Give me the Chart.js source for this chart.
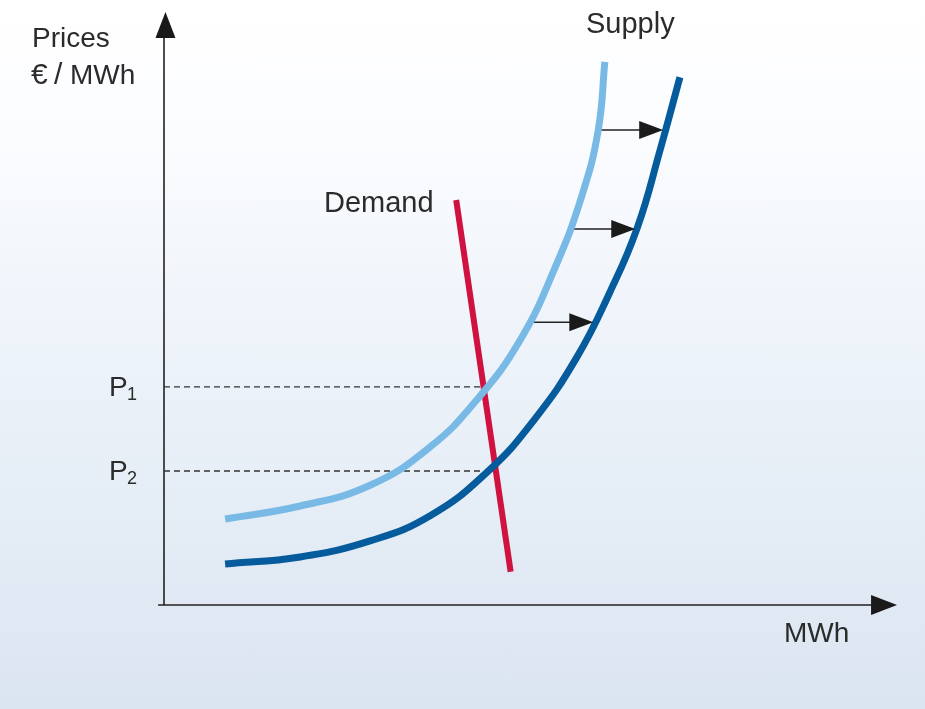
<!DOCTYPE html>
<html lang="en">
<head>
    <meta charset="UTF-8">
    <title>Supply and demand</title>
    <style>
        body {
            margin: 0;
            padding: 0;
            background: linear-gradient(to bottom, #ffffff 0%, #fcfdff 15%, #e9f0f8 60%, #dbe5f1 100%);
            width: 925px;
            height: 709px;
            overflow: hidden;
        }
        #supplyChart {
            display: block;
        }
    </style>
</head>
<body>
    <canvas id="supplyChart" width="925" height="709"></canvas>
    <script src="https://cdn.jsdelivr.net/npm/chart.js"></script>
    <script>
        // values (x = quantity, y = price, both 0..100)
        const supplyX = [8.3, 18.5, 28.0, 36.1, 42.5, 48.4, 53.1, 56.8, 59.0, 59.9];
        const supplyY = [14.5, 16.7, 20.2, 26.6, 34.6, 44.7, 56.8, 69.1, 80.1, 91.6];
        const shiftedX = [8.3, 18.5, 28.0, 36.1, 43.9, 50.4, 56.1, 60.6, 64.3, 67.4, 70.1];
        const shiftedY = [6.9, 8.1, 10.8, 15.0, 22.4, 31.4, 41.8, 52.8, 63.6, 76.7, 89.0];
        const demandX = [39.7, 47.1];
        const demandY = [68.3, 5.6];
        const priceLevels = [36.8, 22.6];
        const priceEnds = [43.6, 44.8];
        const priceLabels = ['1', '2'];
        const shiftY = [80.1, 63.4, 47.7];
        const shiftFrom = [59.0, 55.2, 49.7];
        const shiftTo = [68.1, 64.3, 58.6];

        const toPoints = (xs, ys) => xs.map((x, i) => ({ x: x, y: ys[i] }));

        const datasets = [
            {
                data: toPoints(supplyX, supplyY),
                borderColor: '#78b9e6',
                borderWidth: 7,
                tension: 0.45,
                borderCapStyle: 'butt'
            },
            {
                data: toPoints(shiftedX, shiftedY),
                borderColor: '#055b9b',
                borderWidth: 7,
                tension: 0.45,
                borderCapStyle: 'butt'
            },
            {
                data: toPoints(demandX, demandY),
                borderColor: '#cf1240',
                borderWidth: 6,
                tension: 0
            }
        ];
        priceLevels.forEach((p, i) => {
            datasets.push({
                data: [{ x: 0, y: p }, { x: priceEnds[i], y: p }],
                borderColor: '#333333',
                borderWidth: 1.3,
                borderDash: [6, 4],
                tension: 0
            });
        });
        shiftY.forEach((y, i) => {
            datasets.push({
                data: [{ x: shiftFrom[i], y: y }, { x: shiftTo[i] - 3, y: y }],
                borderColor: '#222222',
                borderWidth: 1.5,
                tension: 0,
                arrowTip: shiftTo[i]
            });
        });

        function triangle(ctx, tipX, tipY, dir, len, half) {
            ctx.beginPath();
            if (dir === 'right') {
                ctx.moveTo(tipX, tipY);
                ctx.lineTo(tipX - len, tipY - half);
                ctx.lineTo(tipX - len, tipY + half);
            } else {
                ctx.moveTo(tipX, tipY);
                ctx.lineTo(tipX - half, tipY + len);
                ctx.lineTo(tipX + half, tipY + len);
            }
            ctx.closePath();
            ctx.fill();
        }

        const diagramParts = {
            id: 'diagramParts',
            beforeDatasetsDraw(chart) {
                const ctx = chart.ctx;
                const xs = chart.scales.x;
                const ys = chart.scales.y;
                ctx.save();
                ctx.strokeStyle = '#222222';
                ctx.fillStyle = '#1a1a1a';
                ctx.lineWidth = 1.6;
                // axes
                ctx.beginPath();
                ctx.moveTo(xs.getPixelForValue(-0.8), ys.getPixelForValue(0));
                ctx.lineTo(xs.getPixelForValue(97), ys.getPixelForValue(0));
                ctx.moveTo(xs.getPixelForValue(0), ys.getPixelForValue(0));
                ctx.lineTo(xs.getPixelForValue(0), ys.getPixelForValue(96));
                ctx.stroke();
                triangle(ctx, xs.getPixelForValue(99.6), ys.getPixelForValue(0), 'right', 26, 10);
                triangle(ctx, xs.getPixelForValue(0.2), ys.getPixelForValue(100), 'up', 26, 10);
                ctx.restore();
            },
            afterDatasetsDraw(chart) {
                const ctx = chart.ctx;
                const xs = chart.scales.x;
                const ys = chart.scales.y;
                ctx.save();
                ctx.fillStyle = '#1a1a1a';
                chart.data.datasets.forEach(ds => {
                    if (ds.arrowTip !== undefined) {
                        triangle(ctx, xs.getPixelForValue(ds.arrowTip) - 2, ys.getPixelForValue(ds.data[0].y), 'right', 24, 9);
                    }
                });

                const font = '28px "Liberation Sans", Arial, sans-serif';
                ctx.fillStyle = '#2b2b2b';
                ctx.textBaseline = 'alphabetic';
                ctx.font = font;
                ctx.fillText('Prices', 32, 47);
                ctx.font = '30px "Liberation Sans", Arial, sans-serif';
                ctx.fillText('€', 31, 84);
                ctx.fillText('/', 54, 84);
                ctx.font = font;
                ctx.fillText('MWh', 70, 84);
                ctx.font = '29px "Liberation Sans", Arial, sans-serif';
                ctx.fillText('Supply', 586, 33);
                ctx.fillText('Demand', 324, 212);
                ctx.font = font;
                ctx.fillText('MWh', 784, 642);
                priceLevels.forEach((p, i) => {
                    const y = ys.getPixelForValue(p);
                    ctx.font = font;
                    ctx.fillText('P', 109, y + 9);
                    ctx.font = '18px "Liberation Sans", Arial, sans-serif';
                    ctx.fillText(priceLabels[i], 127, y + 13);
                });
                ctx.restore();
            }
        };

        new Chart(document.getElementById('supplyChart').getContext('2d'), {
            type: 'line',
            data: { datasets: datasets },
            options: {
                responsive: false,
                animation: false,
                events: [],
                layout: {
                    padding: { left: 164, right: 25, top: 12, bottom: 104 }
                },
                elements: {
                    point: { radius: 0 },
                    line: { fill: false }
                },
                datasets: {
                    line: { clip: false }
                },
                scales: {
                    x: { type: 'linear', min: 0, max: 100, display: false },
                    y: { type: 'linear', min: 0, max: 100, display: false }
                },
                plugins: {
                    legend: { display: false },
                    tooltip: { enabled: false }
                }
            },
            plugins: [diagramParts]
        });
    </script>
</body>
</html>
